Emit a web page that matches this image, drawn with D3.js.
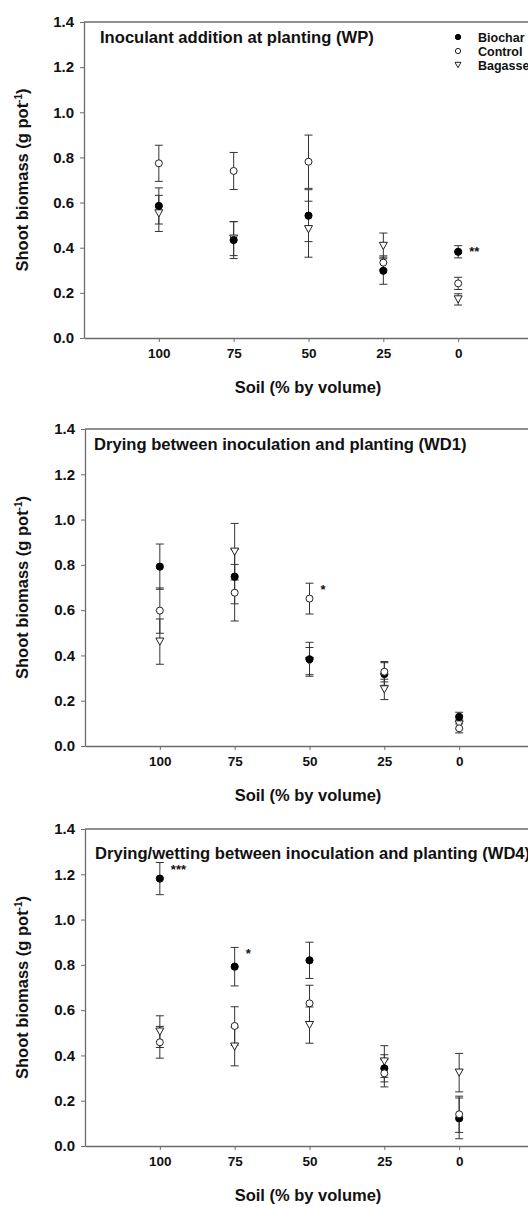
<!DOCTYPE html>
<html>
<head>
<meta charset="utf-8">
<script src="https://cdn.jsdelivr.net/npm/d3@7"></script>
<style>
  body { margin: 0; background: #fff; }
  svg text { font-family: "Liberation Sans", Arial, sans-serif; font-weight: bold; fill: #111; }
</style>
</head>
<body>
<div id="chart"></div>
<script>
// x categories and y ticks
const soilLevels = [100, 75, 50, 25, 0];
const yTicks = [0, 0.2, 0.4, 0.6, 0.8, 1.0, 1.2, 1.4];
const treatments = ['Biochar', 'Control', 'Bagasse'];

// WP: inoculant addition at planting
const wpBiochar = [0.585, 0.434, 0.542, 0.298, 0.382];
const wpBiocharErr = [0.08, 0.082, 0.115, 0.06, 0.027];
const wpControl = [0.774, 0.74, 0.781, 0.334, 0.242];
const wpControlErr = [0.08, 0.082, 0.118, 0.03, 0.027];
const wpBagasse = [0.552, 0.44, 0.482, 0.408, 0.171];
const wpBagasseErr = [0.08, 0.075, 0.124, 0.057, 0.025];

// WD1: drying between inoculation and planting
const wd1Biochar = [0.792, 0.748, 0.383, 0.318, 0.129];
const wd1BiocharErr = [0.1, 0.12, 0.075, 0.05, 0.02];
const wd1Control = [0.598, 0.677, 0.651, 0.328, 0.078];
const wd1ControlErr = [0.1, 0.125, 0.068, 0.045, 0.02];
const wd1Bagasse = [0.461, 0.858, 0.375, 0.25, 0.095];
const wd1BagasseErr = [0.1, 0.125, 0.06, 0.045, 0.02];

// WD4: drying/wetting between inoculation and planting
const wd4Biochar = [1.181, 0.792, 0.82, 0.343, 0.122];
const wd4BiocharErr = [0.071, 0.085, 0.08, 0.06, 0.09];
const wd4Control = [0.458, 0.53, 0.63, 0.321, 0.14];
const wd4ControlErr = [0.07, 0.085, 0.08, 0.06, 0.08];
const wd4Bagasse = [0.505, 0.439, 0.534, 0.373, 0.324];
const wd4BagasseErr = [0.07, 0.085, 0.08, 0.07, 0.085];

// significance marks: [soil, value, label]
const wpStars = [[0, 0.41, '**']];
const wd1Stars = [[50, 0.718, '*']];
const wd4Stars = [[100, 1.251, '***'], [75, 0.877, '*']];

const panels = [
  { title: 'Inoculant addition at planting (WP)', top: 22, bottom: 338, left: 84, titleX: 100, titleDy: 21,
    series: [wpBiochar, wpControl, wpBagasse], errs: [wpBiocharErr, wpControlErr, wpBagasseErr],
    stars: wpStars, legend: true },
  { title: 'Drying between inoculation and planting (WD1)', top: 429, bottom: 746, left: 85, titleX: 94, titleDy: 21,
    series: [wd1Biochar, wd1Control, wd1Bagasse], errs: [wd1BiocharErr, wd1ControlErr, wd1BagasseErr],
    stars: wd1Stars, legend: false },
  { title: 'Drying/wetting between inoculation and planting (WD4)', top: 829, bottom: 1146, left: 85, titleX: 95, titleDy: 30,
    series: [wd4Biochar, wd4Control, wd4Bagasse], errs: [wd4BiocharErr, wd4ControlErr, wd4BagasseErr],
    stars: wd4Stars, legend: false }
];

const width = 528;
const height = 1207;
const axisColor = '#6b6b6b';
const barColor = '#333';

const svg = d3.select('#chart').append('svg')
  .attr('width', width)
  .attr('height', height);

// downward-pointing triangle for bagasse
const triangle = d3.symbol().type({
  draw(ctx, size) {
    const s = Math.sqrt(size);
    ctx.moveTo(-s / 2, -s * 0.45);
    ctx.lineTo(s / 2, -s * 0.45);
    ctx.lineTo(0, s * 0.45);
    ctx.closePath();
  }
});

function drawMarker(g, kind, x, y, scale) {
  const k = scale || 1;
  if (kind === 'Biochar') {
    g.append('circle').attr('cx', x).attr('cy', y).attr('r', 3.6 * k)
      .attr('fill', '#000').attr('stroke', '#000');
  } else if (kind === 'Control') {
    g.append('circle').attr('cx', x).attr('cy', y).attr('r', 3.5 * k)
      .attr('fill', '#fff').attr('stroke', '#222').attr('stroke-width', 1);
  } else {
    g.append('path').attr('d', triangle.size(64 * k * k)())
      .attr('transform', 'translate(' + x + ',' + y + ')')
      .attr('fill', '#fff').attr('stroke', '#222').attr('stroke-width', 1);
  }
}

panels.forEach((p) => {
  const xScale = d3.scaleLinear().domain([125, -25]).range([p.left, p.left + 449]);
  const yScale = d3.scaleLinear().domain([0, 1.4]).range([p.bottom, p.top]);

  const group = svg.append('g');

  // frame: top and right lines
  group.append('line')
    .attr('x1', p.left).attr('x2', xScale(-25))
    .attr('y1', p.top).attr('y2', p.top)
    .attr('stroke', axisColor).attr('stroke-width', 1.3);
  group.append('line')
    .attr('x1', xScale(-25)).attr('x2', xScale(-25))
    .attr('y1', p.top).attr('y2', p.bottom)
    .attr('stroke', axisColor).attr('stroke-width', 1.3);

  // axes
  const xAxis = d3.axisBottom(xScale).tickValues(soilLevels).tickSize(4).tickSizeOuter(0).tickPadding(6);
  const yAxis = d3.axisLeft(yScale).tickValues(yTicks).tickFormat(d3.format('.1f')).tickSize(4).tickSizeOuter(0).tickPadding(6);

  const xAxisGroup = group.append('g')
    .attr('transform', 'translate(0,' + p.bottom + ')')
    .call(xAxis);
  const yAxisGroup = group.append('g')
    .attr('transform', 'translate(' + p.left + ',0)')
    .call(yAxis);

  [xAxisGroup, yAxisGroup].forEach((ag) => {
    ag.select('.domain').attr('stroke', axisColor).attr('stroke-width', 1.3);
    ag.selectAll('.tick line').attr('stroke', axisColor);
    ag.selectAll('.tick text')
      .attr('fill', '#111')
      .style('font-family', '"Liberation Sans", Arial, sans-serif')
      .style('font-weight', 'bold');
  });
  xAxisGroup.selectAll('.tick text').style('font-size', '13.5px');
  yAxisGroup.selectAll('.tick text').style('font-size', '15px');

  // axis titles
  group.append('text')
    .attr('x', 308).attr('y', p.bottom + 55)
    .attr('text-anchor', 'middle')
    .style('font-size', '16.5px')
    .text('Soil (% by volume)');

  const yTitle = group.append('text')
    .attr('transform', 'translate(28,' + (p.top + p.bottom) / 2 + ') rotate(-90)')
    .attr('text-anchor', 'middle')
    .style('font-size', '16.5px');
  yTitle.append('tspan').text('Shoot biomass (g pot');
  yTitle.append('tspan').attr('dy', -6).style('font-size', '10px').text('-1');
  yTitle.append('tspan').attr('dy', 6).text(')');

  // panel title
  group.append('text')
    .attr('x', p.titleX).attr('y', p.top + p.titleDy)
    .style('font-size', '16.6px')
    .text(p.title);

  // error bars
  const bars = group.append('g');
  p.series.forEach((vals, si) => {
    vals.forEach((v, i) => {
      const x = xScale(soilLevels[i]);
      const e = p.errs[si][i];
      const y1 = yScale(v + e);
      const y0 = yScale(v - e);
      bars.append('line').attr('x1', x).attr('x2', x).attr('y1', y1).attr('y2', y0)
        .attr('stroke', barColor).attr('stroke-width', 1);
      [y1, y0].forEach((yy) => {
        bars.append('line').attr('x1', x - 4).attr('x2', x + 4).attr('y1', yy).attr('y2', yy)
          .attr('stroke', barColor).attr('stroke-width', 1);
      });
    });
  });

  // markers: bagasse, biochar, control (control on top)
  const marks = group.append('g');
  [2, 0, 1].forEach((si) => {
    p.series[si].forEach((v, i) => {
      drawMarker(marks, treatments[si], xScale(soilLevels[i]), yScale(v));
    });
  });

  // significance stars
  p.stars.forEach(([soil, v, label]) => {
    group.append('text')
      .attr('x', xScale(soil) + 11)
      .attr('y', yScale(v) + 11)
      .style('font-size', '13px')
      .text(label);
  });

  // legend
  if (p.legend) {
    treatments.forEach((t, i) => {
      const ly = p.top + 15 + i * 14;
      drawMarker(group, t, 458, ly, 0.75);
      group.append('text')
        .attr('x', 478).attr('y', ly + 4.5)
        .style('font-size', '12.5px')
        .text(t);
    });
  }
});
</script>
</body>
</html>
